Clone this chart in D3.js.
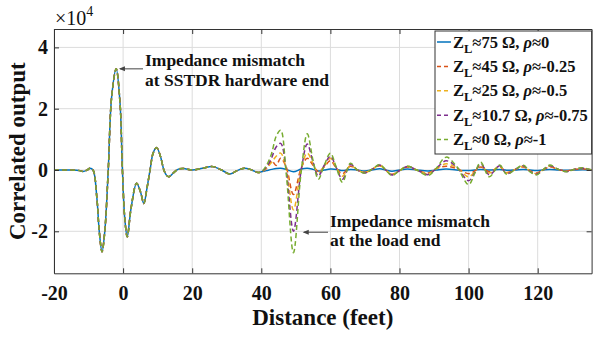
<!DOCTYPE html>
<html>
<head>
<meta charset="utf-8">
<script src="https://cdn.jsdelivr.net/npm/d3@7"></script>
<style>
  html, body { margin: 0; padding: 0; background: #fff; }
  svg { display: block; }
</style>
</head>
<body>
<svg id="chart" width="593" height="337"></svg>
<script>
// ---------------- DATA (values in units of 10^4) ----------------
// Common part of every trace (SSTDR hardware end), distance in feet
const commonX = [-20, -15, -12.5, -11.6, -10.4, -9.6, -8.7, -7.6, -6.9, -6.1, -5.3, -4.3, -3.3, -2.0, -0.9, -0.2, 0.5, 1.2, 2.3, 3.9, 5.0, 6.0, 6.9, 7.8, 8.7, 9.7, 10.8, 11.8, 12.6, 13.3, 14.5, 16, 17.5, 20, 23, 26, 28.5, 30.9, 33, 35.2, 37.2, 39];
const commonY = [0, 0, -0.02, -0.05, 0.0, 0.06, 0, -0.9, -2.0, -2.67, -2.0, 0, 2.4, 3.3, 2.2, 0, -1.6, -2.18, -1.25, -0.43, -0.7, -1.09, -0.6, 0, 0.55, 0.73, 0.45, 0, -0.18, -0.22, -0.1, 0.03, 0.05, 0.0, 0.06, 0.11, 0.0, -0.13, -0.02, 0.06, 0.0, -0.08];

// Tail (load end) distances, feet
const tailX = [40, 41.5, 43, 44.3, 45.6, 47.2, 49.3, 51.5, 53.3, 55, 56.5, 58.2, 60, 61.8, 63.5, 65.8, 67.8, 70, 72, 74.3, 76, 77.8, 80, 82.3, 85, 88.3, 90.6, 93.5, 96.5, 100, 101.8, 103.5, 106, 109, 111, 113.5, 115.8, 117.7, 119.6, 121.5, 123.5, 126, 128.3, 130.5, 133, 135.6];

const tail75 = [-0.06, -0.02, 0.02, 0.05, 0.06, 0.02, -0.06, 0.03, 0.06, 0.02, -0.03, 0.0, 0.03, 0.02, -0.02, 0.02, 0.0, -0.03, 0.0, 0.04, 0.0, -0.04, 0.0, 0.03, 0.0, -0.03, 0.0, 0.03, 0.0, -0.02, 0.0, 0.02, 0.0, 0.02, -0.01, 0.0, 0.02, 0.0, -0.02, 0.0, 0.02, 0.0, -0.01, 0.0, 0.01, 0.0];
const tail45 = [-0.06, 0.05, 0.3, 0.15, 0.38, 0.1, -0.8, 0.05, 0.38, 0.15, -0.05, 0.1, 0.3, 0.05, -0.12, 0.12, 0.0, -0.07, 0.02, 0.14, 0.0, -0.14, -0.02, 0.1, 0.0, -0.1, 0.04, 0.12, 0.05, -0.12, -0.03, 0.1, -0.06, 0.1, -0.08, 0.02, 0.1, -0.02, -0.1, 0.0, 0.1, 0.02, -0.03, 0.02, 0.04, 0.0];
const tail25 = [-0.06, 0.06, 0.25, 0.45, 0.55, 0.05, -1.3, 0.0, 0.55, 0.2, -0.12, 0.12, 0.38, 0.05, -0.2, 0.15, 0.0, -0.08, 0.02, 0.15, 0.0, -0.15, -0.02, 0.12, 0.0, -0.12, 0.04, 0.2, 0.08, -0.22, -0.05, 0.15, -0.1, 0.12, -0.1, 0.02, 0.12, -0.03, -0.12, 0.0, 0.12, 0.02, -0.04, 0.02, 0.05, 0.0];
const tail10 = [-0.06, 0.1, 0.4, 0.75, 0.87, 0.0, -2.0, -0.05, 0.85, 0.25, -0.2, 0.15, 0.45, 0.05, -0.3, 0.18, 0.0, -0.1, 0.02, 0.16, 0.0, -0.16, -0.02, 0.12, 0.0, -0.15, 0.05, 0.3, 0.1, -0.35, -0.08, 0.2, -0.16, 0.14, -0.12, 0.02, 0.14, -0.04, -0.14, 0.0, 0.14, 0.02, -0.05, 0.02, 0.06, 0.0];
const tail0  = [-0.06, 0.15, 0.55, 1.1, 1.3, -0.1, -2.7, -0.1, 1.18, 0.3, -0.3, 0.15, 0.55, 0.05, -0.4, 0.22, 0.0, -0.1, 0.02, 0.18, 0.0, -0.18, -0.02, 0.12, 0.0, -0.18, 0.05, 0.42, 0.12, -0.48, -0.1, 0.25, -0.22, 0.16, -0.14, 0.02, 0.16, -0.05, -0.16, 0.0, 0.16, 0.02, -0.06, 0.02, 0.07, 0.0];

const seriesNames = ["75", "45", "25", "10.7", "0"];
const seriesRho = ["0", "-0.25", "-0.5", "-0.75", "-1"];
const seriesColors = ["#0072BD", "#D95319", "#EDB120", "#7E2F8E", "#77AC30"];
const seriesDash = [null, "5,3", "5,3", "5,3", "5,3"];
const seriesTails = [tail75, tail45, tail25, tail10, tail0];

const xTicks = [-20, 0, 20, 40, 60, 80, 100, 120];
const yTicks = [-2, 0, 2, 4];
const xDomain = [-20, 135.6];
const yDomain = [-3.37, 4.6];

// ---------------- CHART ----------------
const FONT = '"Liberation Serif", "Times New Roman", Tinos, serif';
const svg = d3.select("#chart");
const L = 54, R = 591.6, T = 29, B = 273.3;
const x = d3.scaleLinear().domain(xDomain).range([L, R]);
const y = d3.scaleLinear().domain(yDomain).range([B, T]);

svg.append("rect").attr("width", 593).attr("height", 337).attr("fill", "#fff");

// grid
const grid = svg.append("g").attr("stroke", "#dcdcdc").attr("stroke-width", 1);
xTicks.forEach(t => grid.append("line").attr("x1", x(t)).attr("x2", x(t)).attr("y1", T).attr("y2", B));
yTicks.forEach(t => grid.append("line").attr("x1", L).attr("x2", R).attr("y1", y(t)).attr("y2", y(t)));

// clip
svg.append("clipPath").attr("id", "clip").append("rect")
  .attr("x", L).attr("y", T).attr("width", R - L).attr("height", B - T);

// lines
const line = d3.line().x(d => x(d[0])).y(d => y(d[1])).curve(d3.curveCatmullRom.alpha(0.5));
const lg = svg.append("g").attr("clip-path", "url(#clip)");
seriesTails.forEach((tail, i) => {
  const pts = commonX.map((v, k) => [v, commonY[k]]).concat(tailX.map((v, k) => [v, tail[k]]));
  const p = lg.append("path").datum(pts)
    .attr("d", line)
    .attr("fill", "none")
    .attr("stroke", seriesColors[i])
    .attr("stroke-width", 1.5);
  if (seriesDash[i]) p.attr("stroke-dasharray", seriesDash[i]);
});

// axes
const fmt = d => String(d);
const axColor = "#333";
const gB = svg.append("g").attr("transform", `translate(0,${B})`)
  .call(d3.axisBottom(x).tickValues(xTicks).tickFormat(fmt).tickSizeInner(-5).tickSizeOuter(0).tickPadding(13));
const gT = svg.append("g").attr("transform", `translate(0,${T})`)
  .call(d3.axisTop(x).tickValues(xTicks).tickFormat("").tickSizeInner(-5).tickSizeOuter(0));
const gL = svg.append("g").attr("transform", `translate(${L},0)`)
  .call(d3.axisLeft(y).tickValues(yTicks).tickFormat(fmt).tickSizeInner(-5).tickSizeOuter(0).tickPadding(6));
const gR = svg.append("g").attr("transform", `translate(${R},0)`)
  .call(d3.axisRight(y).tickValues(yTicks).tickFormat("").tickSizeInner(-5).tickSizeOuter(0));
[gB, gT, gL, gR].forEach(g => {
  g.selectAll(".domain").attr("stroke", axColor).attr("stroke-width", 1);
  g.selectAll(".tick line").attr("stroke", axColor).attr("stroke-width", 1);
  g.selectAll("text").attr("fill", "#111")
    .style("font-family", FONT).style("font-size", "20px").style("font-weight", "bold");
});

// exponent label
const ex = svg.append("text").attr("x", 55).attr("y", 24.5).attr("fill", "#111")
  .style("font-family", FONT).style("font-size", "20px");
ex.append("tspan").text("×10");
ex.append("tspan").attr("dy", -9).style("font-size", "14px").text("4");

// axis titles
svg.append("text").attr("x", (L + R) / 2).attr("y", 325).attr("text-anchor", "middle").attr("fill", "#111")
  .style("font-family", FONT).style("font-size", "23px").style("font-weight", "bold").text("Distance (feet)");
svg.append("text").attr("transform", `translate(25,${(T + B) / 2}) rotate(-90)`).attr("text-anchor", "middle").attr("fill", "#111")
  .style("font-family", FONT).style("font-size", "23px").style("font-weight", "bold").text("Correlated output");

// annotations
function annot(tipX, tipY, tx, ty, lines) {
  const px = x(tipX), py = y(tipY);
  const g = svg.append("g");
  g.append("line").attr("x1", tx - 2).attr("y1", py).attr("x2", px + 1).attr("y2", py)
    .attr("stroke", "#444").attr("stroke-width", 1);
  g.append("path").attr("d", `M${px},${py} l6,-2.5 l0,5 z`).attr("fill", "#444");
  lines.forEach((s, i) => {
    g.append("text").attr("x", tx).attr("y", ty + i * 19.5).attr("fill", "#111")
      .style("font-family", FONT).style("font-size", "17.5px").style("font-weight", "bold").text(s);
  });
}
annot(-1.2, 3.3, 145, 66, ["Impedance mismatch", "at SSTDR hardware end"]);
annot(52, -2.03, 330, 226.5, ["Impedance mismatch", "at the load end"]);

// legend
const legX = 435, legY = 31, legW = R - legX, legH = 123;
const lgd = svg.append("g");
lgd.append("rect").attr("x", legX).attr("y", legY).attr("width", legW).attr("height", legH)
  .attr("fill", "#fff").attr("stroke", "#333").attr("stroke-width", 1);
seriesNames.forEach((n, i) => {
  const cy = 42 + i * 24.4;
  const ln = lgd.append("line").attr("x1", legX + 2).attr("x2", legX + 16).attr("y1", cy).attr("y2", cy)
    .attr("stroke", seriesColors[i]).attr("stroke-width", 1.5);
  if (seriesDash[i]) ln.attr("stroke-dasharray", "4,3");
  const t = lgd.append("text").attr("x", legX + 18).attr("y", cy + 5.5).attr("fill", "#111")
    .style("font-family", FONT).style("font-size", "16.5px").style("font-weight", "bold");
  t.append("tspan").text("Z");
  t.append("tspan").attr("dy", 5).style("font-size", "12.5px").text("L");
  t.append("tspan").attr("dy", -5).text(`≈${n} Ω, `);
  t.append("tspan").style("font-style", "italic").text("ρ");
  t.append("tspan").text(`≈${seriesRho[i]}`);
});
</script>
</body>
</html>
